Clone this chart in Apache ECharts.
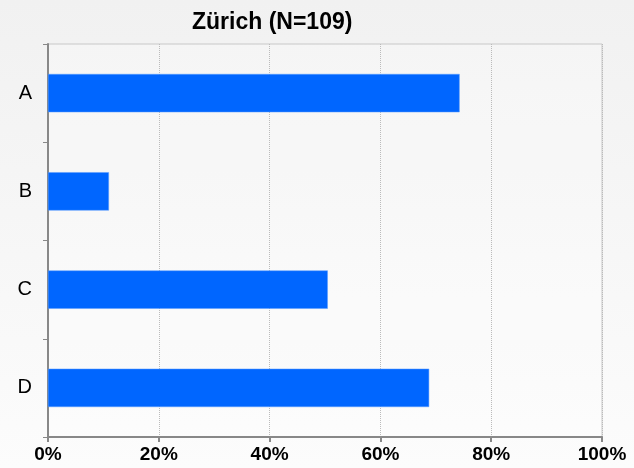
<!DOCTYPE html>
<html>
<head>
<meta charset="utf-8">
<script src="https://cdn.jsdelivr.net/npm/echarts@6/dist/echarts.min.js"></script>
<style>
  html, body { margin: 0; padding: 0; }
  #chart { width: 634px; height: 468px; }
</style>
</head>
<body>
<div id="chart"></div>
<script>
  // 类别与数值（百分比）
  const categories = ['A', 'B', 'C', 'D'];
  const values = [74.3, 11.0, 50.5, 68.8];
  const xTicks = [0, 20, 40, 60, 80, 100];

  const chart = echarts.init(document.getElementById('chart'));
  const option = {
    backgroundColor: {
      type: 'linear', x: 0, y: 0, x2: 0, y2: 1,
      colorStops: [{ offset: 0, color: '#f1f1f1' }, { offset: 1, color: '#fcfcfc' }]
    },
    title: {
      text: 'Zürich (N=109)',
      left: 187,
      top: 6,
      textStyle: { fontFamily: 'Liberation Sans, Arial', fontSize: 23, fontWeight: 'bold', color: '#000' }
    },
    grid: {
      left: 48, right: 32, top: 44, bottom: 31,
      show: true,
      backgroundColor: 'rgba(255,255,255,0.25)',
      borderColor: '#c8c8c8',
      borderWidth: 1
    },
    xAxis: {
      type: 'value',
      min: xTicks[0],
      max: xTicks[xTicks.length - 1],
      interval: 20,
      axisLine: { show: true, lineStyle: { color: '#888', width: 2 } },
      axisTick: { show: true, length: 5, lineStyle: { color: '#888', width: 2 } },
      axisLabel: {
        formatter: '{value}%',
        fontFamily: 'Liberation Sans, Arial',
        fontSize: 19,
        fontWeight: 'bold',
        color: '#000',
        margin: 8
      },
      splitLine: { show: true, lineStyle: { color: '#bbb', type: 'dotted', width: 1 } }
    },
    yAxis: {
      type: 'category',
      data: categories,
      inverse: true,
      axisLine: { show: true, lineStyle: { color: '#888', width: 2 } },
      axisTick: { show: true, length: 5, lineStyle: { color: '#888', width: 1 } },
      axisLabel: {
        fontFamily: 'Liberation Sans, Arial',
        fontSize: 20,
        color: '#000',
        margin: 16
      },
      splitLine: { show: false }
    },
    series: [{
      type: 'bar',
      data: values,
      barWidth: '39%',
      itemStyle: { color: '#0066ff', borderColor: '#5b9cff', borderWidth: 0.5 },
      animation: false
    }]
  };
  chart.setOption(option);
</script>
</body>
</html>
